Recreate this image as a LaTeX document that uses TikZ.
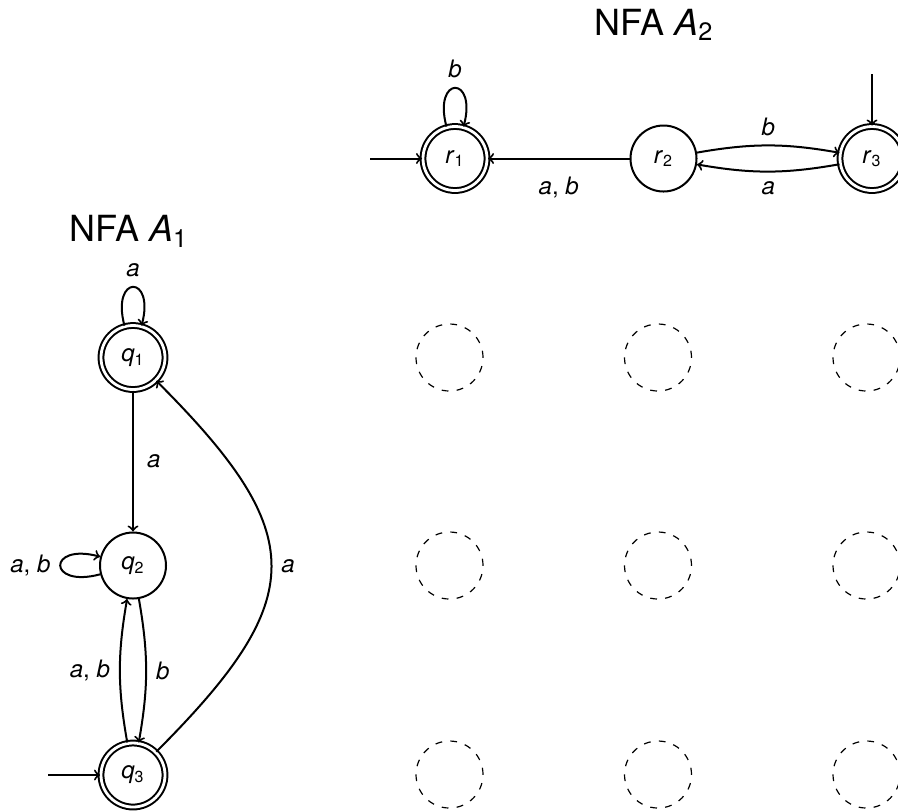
\documentclass[tikz,border=0pt]{standalone}
\usepackage{fontspec}
\setmainfont{TeX Gyre Heros}
\newcommand{\stname}[2]{\textit{#1}\textsubscript{#2}}
\tikzset{
  nstate/.style={circle, draw, minimum size=33pt, inner sep=0pt,
    font=\fontsize{12}{14}\selectfont},
  accept/.style={nstate, minimum size=32pt, double, double distance=1.4pt},
  ghost/.style={circle, draw, minimum size=33.5pt, inner sep=0pt,
    line width=0.6pt, dash pattern=on 3.4pt off 4.1pt},
  lbl/.style={font=\fontsize{12}{14}\selectfont, inner sep=4.5pt},
  heading/.style={font=\fontsize{18}{22}\selectfont, anchor=base, inner sep=0pt},
}
\begin{document}
\begin{tikzpicture}[x=0.5pt, y=0.5pt, >=to, line width=1pt]
  \useasboundingbox (0,0) rectangle (898,-811);

  % headings
  \node[heading] (t1) at (129,-241.7) {NFA \textit{A}\textsubscript{1}};
  \node[heading] (t2) at (654,-35) {NFA \textit{A}\textsubscript{2}};

  % automaton A1
  \node[accept] (q1) at (133,-357.5) {\stname{q}{1}};
  \node[nstate] (q2) at (133,-565.5) {\stname{q}{2}};
  \node[accept] (q3) at (133,-775)   {\stname{q}{3}};
  \coordinate (s3) at (48,-775);

  % automaton A2
  \node[accept] (r1) at (455,-158.5)   {\stname{r}{1}};
  \node[nstate] (r2) at (663.5,-158.5) {\stname{r}{2}};
  \node[accept] (r3) at (872,-158.5)   {\stname{r}{3}};
  \coordinate (s1) at (370,-158.5);
  \coordinate (s2) at (872,-74);

  % empty grid of product states
  \foreach \i/\x in {1/449.5, 2/658, 3/866.5}
    \foreach \j/\y in {1/-357.5, 2/-565.5, 3/-774.5}
      \node[ghost] (g\i\j) at (\x,\y) {};

  % transitions of A1
  \draw[->] (s3) -- (q3);
  \draw[->] (q1) to[loop above] node[lbl, above] {\textit{a}} (q1);
  \draw[->] (q1) -- node[lbl, right, xshift=2pt] {\textit{a}} (q2);
  \draw[->] (q2) to[loop left] node[lbl, left] {\textit{a}, \textit{b}} (q2);
  \draw[->] (q3) to[bend left=10] node[lbl, left] {\textit{a}, \textit{b}} (q2);
  \draw[->] (q2) to[bend left=10] node[lbl, right] {\textit{b}} (q3);
  \draw[->] (q3) to[out=45, in=-45, looseness=1.5] node[lbl, right] {\textit{a}} (q1);

  % transitions of A2
  \draw[->] (s1) -- (r1);
  \draw[->] (s2) -- (r3);
  \draw[->] (r1) to[loop above] node[lbl, above] {\textit{b}} (r1);
  \draw[->] (r2) -- node[lbl, below, yshift=-4pt] {\textit{a}, \textit{b}} (r1);
  \draw[->] (r2) to[bend left=10] node[lbl, above] {\textit{b}} (r3);
  \draw[->] (r3) to[bend left=10] node[lbl, below] {\textit{a}} (r2);
\end{tikzpicture}
\end{document}
